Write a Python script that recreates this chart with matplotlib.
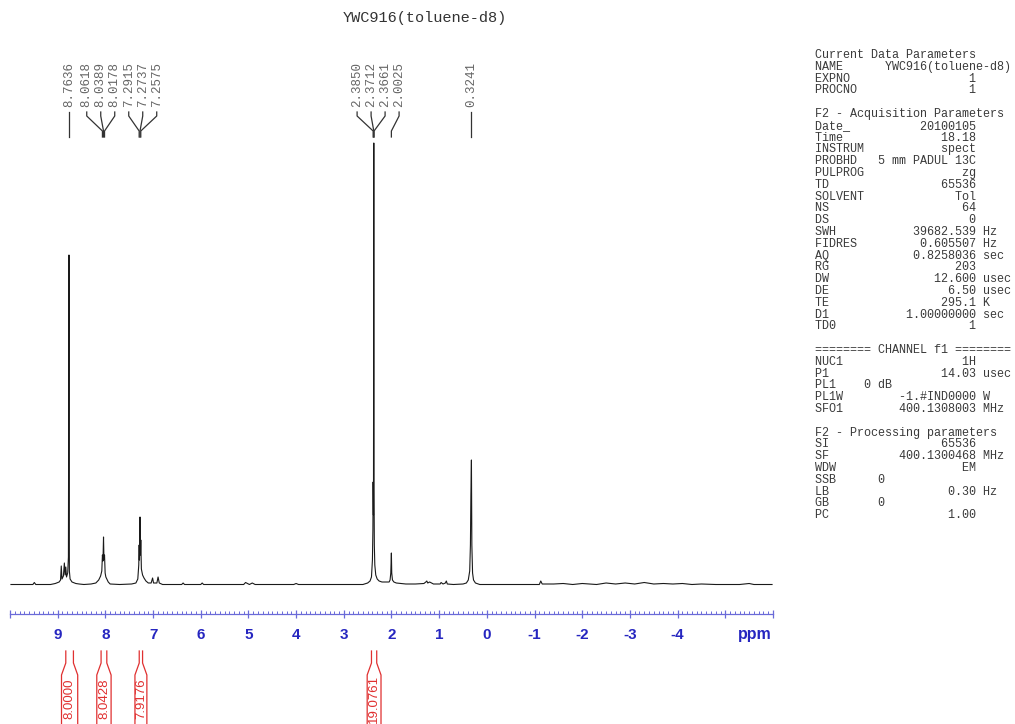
import numpy as np
import matplotlib.pyplot as plt
from matplotlib.ticker import MultipleLocator

# spectrum trace (ppm, height above baseline)
spec_ppm = [9.98, 9.70, 9.52, 9.49, 9.46, 9.15, 9.05, 8.97, 8.94, 8.925, 8.91, 8.88,
            8.86, 8.845, 8.83, 8.815, 8.79, 8.775, 8.7636, 8.755, 8.74, 8.70, 8.62,
            8.55, 8.45, 8.30, 8.20, 8.14, 8.10, 8.075, 8.0618, 8.05, 8.0389, 8.03,
            8.0178, 8.005, 7.99, 7.97, 7.94, 7.90, 7.70, 7.45, 7.36, 7.32, 7.30,
            7.2915, 7.285, 7.2737, 7.265, 7.2575, 7.245, 7.22, 7.19, 7.15, 7.10,
            7.04, 7.01, 6.99, 6.92, 6.895, 6.87, 6.80, 6.40, 6.37, 6.34, 6.00, 5.97,
            5.94, 5.10, 5.06, 4.98, 4.92, 4.86, 4.05, 4.00, 3.95, 2.60, 2.50, 2.45,
            2.42, 2.40, 2.39, 2.3850, 2.378, 2.3712, 2.3661, 2.36, 2.35, 2.33, 2.30,
            2.26, 2.20, 2.10, 2.05, 2.03, 2.015, 2.0025, 1.995, 1.98, 1.95, 1.90,
            1.70, 1.50, 1.32, 1.28, 1.26, 1.24, 1.20, 1.12, 0.98, 0.96, 0.92, 0.87,
            0.85, 0.83, 0.70, 0.50, 0.43, 0.39, 0.36, 0.345, 0.335, 0.3241, 0.315,
            0.30, 0.28, 0.24, 0.15, -0.60, -1.10, -1.13, -1.16, -1.4, -1.6, -1.8,
            -2.0, -2.3, -2.5, -2.7, -2.9, -3.1, -3.3, -3.5, -3.7, -3.9, -4.1, -4.3,
            -4.5, -4.8, -5.3, -5.5, -5.6, -5.98]
spec_int = [0.5, 0.5, 0.5, 2.5, 0.5, 0.5, 1.5, 3, 5, 19, 6, 9,
            22, 10, 18, 8, 12, 28, 330, 14, 6, 3, 1.5,
            1, 0.5, 1, 2, 5, 9, 14, 30, 24, 48, 26,
            30, 12, 8, 6, 3, 1, 0.5, 1, 2, 6, 20,
            40, 25, 68, 30, 45, 16, 10, 7, 4, 2,
            2, 7, 2, 2, 8, 2, 0.5, 0.5, 2, 0.5, 0.5, 2,
            0.5, 0.5, 2.5, 0.5, 2, 0.5, 0.5, 1.5, 0.5, 0.5, 2, 4,
            8, 25, 55, 103, 70, 442, 95, 40, 20, 10, 6,
            4, 3, 3, 3, 5, 12, 32, 12, 5, 3, 2,
            1, 1, 1.5, 3, 4, 2, 3, 1, 1, 2.5, 1, 2,
            4, 1, 0.5, 1, 2, 5, 14, 40, 90, 125, 40,
            12, 5, 2, 0.5, 0.5, 0.5, 4, 1, 1, 1.5, 0.5,
            1.5, 0.5, 2, 1, 2, 1, 2.5, 1, 1.5, 1, 1.5, 0.5,
            1, 0.5, 0.5, 1.5, 0.5, 0.5]

peak_labels = [8.7636, 8.0618, 8.0389, 8.0178, 7.2915, 7.2737, 7.2575,
               2.3850, 2.3712, 2.3661, 2.0025, 0.3241]

integral_hi = [8.83, 8.09, 7.29, 2.42]
integral_lo = [8.67, 7.97, 7.22, 2.31]
integral_val = ["8.0000", "8.0428", "7.9176", "19.0761"]

tick_values = list(range(10, -7, -1))
tick_labels = ["", "9", "8", "7", "6", "5", "4", "3", "2", "1", "0",
               "-1", "-2", "-3", "-4", "", ""]

title = "YWC916(toluene-d8)"

# parameter block: headers are plain strings, rows are (name, value, unit)
params = [
    "Current Data Parameters",
    "NAME      YWC916(toluene-d8)",
    ("EXPNO", "1", ""),
    ("PROCNO", "1", ""),
    "",
    "F2 - Acquisition Parameters",
    ("Date_", "20100105", ""),
    ("Time", "18.18", ""),
    ("INSTRUM", "spect", ""),
    ("PROBHD", "5 mm PADUL 13C", ""),
    ("PULPROG", "zg", ""),
    ("TD", "65536", ""),
    ("SOLVENT", "Tol", ""),
    ("NS", "64", ""),
    ("DS", "0", ""),
    ("SWH", "39682.539", "Hz"),
    ("FIDRES", "0.605507", "Hz"),
    ("AQ", "0.8258036", "sec"),
    ("RG", "203", ""),
    ("DW", "12.600", "usec"),
    ("DE", "6.50", "usec"),
    ("TE", "295.1", "K"),
    ("D1", "1.00000000", "sec"),
    ("TD0", "1", ""),
    "",
    "======== CHANNEL f1 ========",
    ("NUC1", "1H", ""),
    ("P1", "14.03", "usec"),
    "PL1    0 dB",
    ("PL1W", "-1.#IND0000", "W"),
    ("SFO1", "400.1308003", "MHz"),
    "",
    "F2 - Processing parameters",
    ("SI", "65536", ""),
    ("SF", "400.1300468", "MHz"),
    ("WDW", "EM", ""),
    "SSB      0",
    ("LB", "0.30", "Hz"),
    "GB       0",
    ("PC", "1.00", ""),
]


def spread_labels(ppms, gap):
    # push neighbouring labels apart, merging crowded ones into evenly spaced groups
    groups = [[p] for p in ppms]
    changed = True
    while changed:
        changed = False
        merged = []
        for g in groups:
            if merged:
                prev = merged[-1]
                last_prev = np.mean(prev) - (len(prev) - 1) / 2 * gap
                first_g = np.mean(g) + (len(g) - 1) / 2 * gap
                if last_prev - first_g < gap:
                    merged[-1] = prev + g
                    changed = True
                    continue
            merged.append(g)
        groups = merged
    pos = []
    for g in groups:
        c = np.mean(g)
        pos += [c + ((len(g) - 1) / 2 - i) * gap for i in range(len(g))]
    return pos


W, H = 1015, 724
fig = plt.figure(figsize=(W / 100, H / 100), dpi=100)

# main axes: x in ppm, y in "pixels above baseline" (baseline at row 585)
ax_left, ax_right = 10, 773
ax_top, ax_bottom = 50, 614
ax = fig.add_axes([ax_left / W, 1 - ax_bottom / H,
                   (ax_right - ax_left) / W, (ax_bottom - ax_top) / H])
ax.set_xlim(10, -6)
ax.set_ylim(585 - ax_bottom, 585 - ax_top)

ax.plot(spec_ppm, spec_int, color="#1a1a1a", lw=0.8)

blue = "#6a6ad8"
for s in ["left", "right", "top"]:
    ax.spines[s].set_visible(False)
ax.spines["bottom"].set_color(blue)
ax.spines["bottom"].set_linewidth(0.9)
ax.set_yticks([])
ax.set_xticks(tick_values)
ax.set_xticklabels(tick_labels)
ax.xaxis.set_minor_locator(MultipleLocator(0.1))
ax.tick_params(axis="x", which="major", direction="inout", length=5.5, width=0.9,
               color=blue, labelcolor="#2626c0", pad=7, labelsize=11)
ax.tick_params(axis="x", which="minor", direction="in", length=2.5, width=0.7,
               color=blue)
for lab in ax.get_xticklabels():
    lab.set_fontweight("bold")
    lab.set_family("Liberation Sans")
ax.text(-5.62, -50, "ppm", ha="center", va="center", fontsize=11.5,
        fontweight="bold", family="Liberation Sans", color="#2626c0", clip_on=False)

# peak labels with connector tree
gap = 14 / 47.7
label_pos = spread_labels(peak_labels, gap)
for p, lp in zip(peak_labels, label_pos):
    ax.plot([lp, lp, p, p], [473, 469, 454, 448], color="#333333", lw=0.9,
            clip_on=False)
    ax.text(lp, 478, f"{p:.4f}", rotation=90, ha="center", va="bottom",
            family="Liberation Mono", fontsize=9, color="#666666", clip_on=False)

# integrals below the scale
red = "#e03030"
for hi, lo, val in zip(integral_hi, integral_lo, integral_val):
    c = (hi + lo) / 2
    hw = (hi - lo) / 2 + 0.09
    ax.plot([hi, hi, c + hw, c + hw], [-66, -78, -90, -160], color=red, lw=0.9,
            clip_on=False)
    ax.plot([lo, lo, c - hw, c - hw], [-66, -78, -90, -160], color=red, lw=0.9,
            clip_on=False)
    ax.text(c, -114, val, rotation=90, ha="center", va="center", fontsize=9.5,
            family="Liberation Sans", color=red, clip_on=False)

# title and parameter block
fig.text(425 / W, 1 - 18 / H, title, ha="center", va="center",
         family="Liberation Mono", fontsize=11, color="#333333")
for i, row in enumerate(params):
    if isinstance(row, tuple):
        name, value, unit = row
        line = f"{name:<8}{value:>15} {unit}".rstrip()
    else:
        line = row
    if line:
        fig.text(815 / W, 1 - (55 + 11.8 * i) / H, line, ha="left", va="center",
                 family="Liberation Mono", fontsize=8.5, color="#3a3a3a")

fig.savefig("out.png", dpi=100)
